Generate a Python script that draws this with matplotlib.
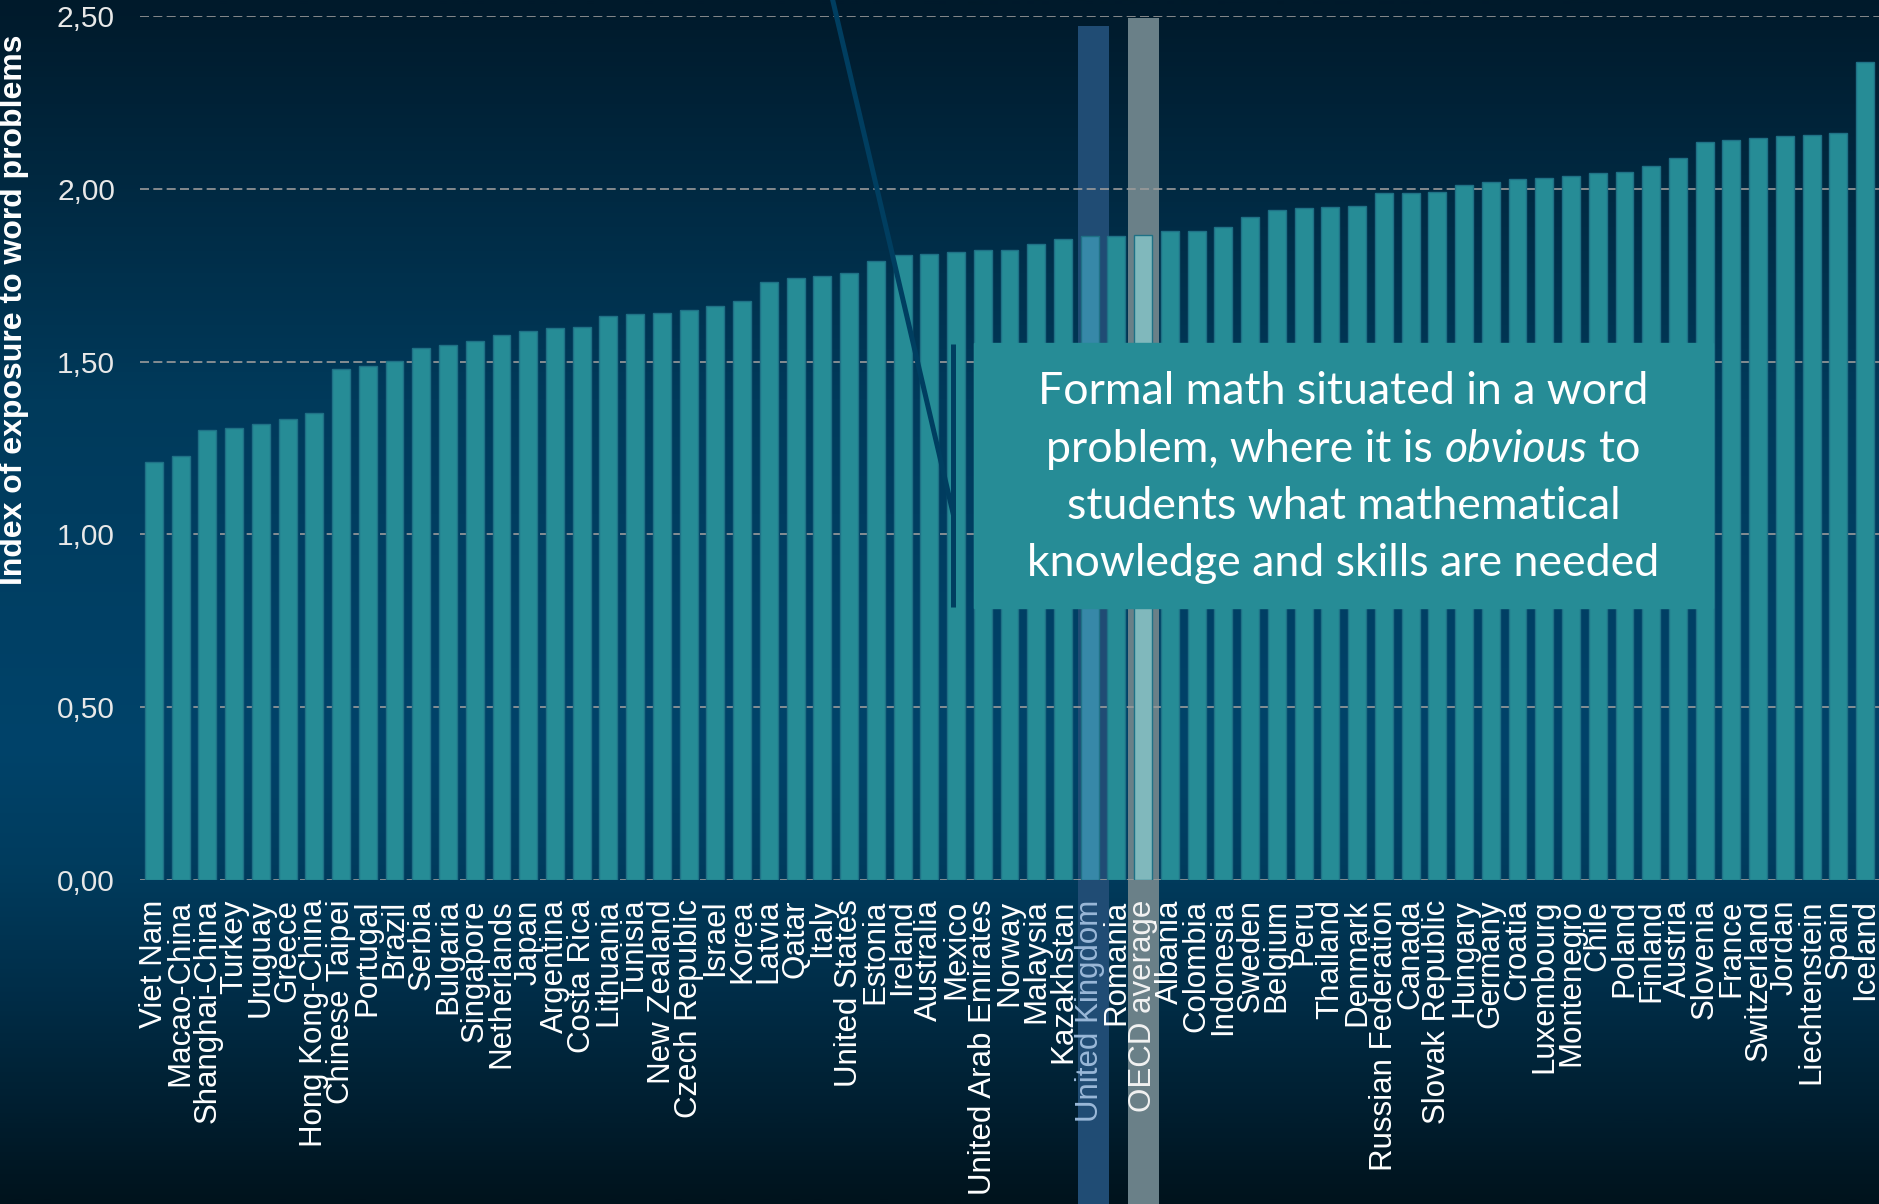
import numpy as np
import matplotlib
matplotlib.use("Agg")
import matplotlib.pyplot as plt
from matplotlib.colors import LinearSegmentedColormap
from matplotlib.patches import Rectangle
from matplotlib.lines import Line2D
from matplotlib.ticker import FuncFormatter

# ---- data -------------------------------------------------------------
countries = [
    "Viet Nam", "Macao-China", "Shanghai-China", "Turkey", "Uruguay", "Greece",
    "Hong Kong-China", "Chinese Taipei", "Portugal", "Brazil", "Serbia",
    "Bulgaria", "Singapore", "Netherlands", "Japan", "Argentina", "Costa Rica",
    "Lithuania", "Tunisia", "New Zealand", "Czech Republic", "Israel", "Korea",
    "Latvia", "Qatar", "Italy", "United States", "Estonia", "Ireland",
    "Australia", "Mexico", "United Arab Emirates", "Norway", "Malaysia",
    "Kazakhstan", "United Kingdom", "Romania", "OECD average", "Albania",
    "Colombia", "Indonesia", "Sweden", "Belgium", "Peru", "Thailand", "Denmark",
    "Russian Federation", "Canada", "Slovak Republic", "Hungary", "Germany",
    "Croatia", "Luxembourg", "Montenegro", "Chile", "Poland", "Finland",
    "Austria", "Slovenia", "France", "Switzerland", "Jordan", "Liechtenstein",
    "Spain", "Iceland",
]
exposure = [
    1.209, 1.228, 1.302, 1.309, 1.318, 1.333, 1.351, 1.479, 1.486, 1.502,
    1.540, 1.547, 1.560, 1.578, 1.589, 1.598, 1.601, 1.633, 1.637, 1.642,
    1.648, 1.661, 1.675, 1.731, 1.743, 1.747, 1.755, 1.792, 1.809, 1.811,
    1.817, 1.822, 1.824, 1.840, 1.855, 1.862, 1.863, 1.867, 1.877, 1.878,
    1.889, 1.917, 1.940, 1.943, 1.948, 1.950, 1.987, 1.988, 1.992, 2.011,
    2.020, 2.027, 2.032, 2.036, 2.047, 2.049, 2.066, 2.089, 2.136, 2.140,
    2.146, 2.154, 2.156, 2.162, 2.367,
]
y_ticks = [0.0, 0.5, 1.0, 1.5, 2.0, 2.5]
y_label = "Index of exposure to word problems"
focus_country = "United Kingdom"
average_label = "OECD average"
callout_lines = [
    [("Formal math situated in a word", "normal")],
    [("problem, where it is", "normal"), ("obvious", "italic"), ("to", "normal")],
    [("students what mathematical", "normal")],
    [("knowledge and skills are needed", "normal")],
]

# ---- styling ------------------------------------------------------------
W, H, DPI = 1879, 1204, 100
BAR = "#268c96"
BAR_EDGE = "#1f7186"
FOCUS_BAR = "#3788a8"
AVG_BAR = "#80b8bc"
FOCUS_BAND = "#204c74"
AVG_BAND = "#6a8088"
GRID = "#9b9b9b"
CONNECTOR = "#003e60"
SANS = ["Liberation Sans", "DejaVu Sans"]

fig = plt.figure(figsize=(W / DPI, H / DPI), dpi=DPI)

# vertical gradient backdrop
bg = fig.add_axes([0, 0, 1, 1], zorder=-10)
bg.set_axis_off()
cmap = LinearSegmentedColormap.from_list(
    "slide",
    [(0.0, "#001a2b"), (0.33, "#003a5b"), (0.62, "#00436a"),
     (0.72, "#003c5e"), (0.82, "#002e49"), (1.0, "#00131d")],
)
bg.imshow(np.linspace(0, 1, 600).reshape(-1, 1), aspect="auto", cmap=cmap,
          extent=[0, 1, 0, 1], origin="upper")
bg.set_xlim(0, 1)
bg.set_ylim(0, 1)

# main chart
ax = fig.add_axes([140 / W, 1 - 880 / H, 1 - 140 / W, (880 - 16) / H])
ax.set_facecolor("none")
x = np.arange(len(countries))
colors = [FOCUS_BAR if c == focus_country else AVG_BAR if c == average_label else BAR
          for c in countries]
ax.bar(x, exposure, width=0.67, color=colors, edgecolor=BAR_EDGE, linewidth=1.0, zorder=2)

ax.set_xlim(-0.52, len(countries) - 0.48)
ax.set_ylim(0, 2.5)

# highlight bands behind the focus country and the average
y_fig_bottom = ax.transData.inverted().transform(fig.transFigure.transform((0, 0)))[1]
for name, color, top, dx, w in [(focus_country, FOCUS_BAND, 2.47, -0.43, 1.16),
                                (average_label, AVG_BAND, 2.494, -0.56, 1.15)]:
    i = countries.index(name)
    ax.add_patch(Rectangle((i + dx, y_fig_bottom), w, top - y_fig_bottom,
                           facecolor=color, edgecolor="none", zorder=0.2, clip_on=False))

ax.set_axisbelow(True)
ax.yaxis.grid(True, color=GRID, linestyle=(0, (5.4, 2.6)), linewidth=1.2)
ax.xaxis.grid(False)
for s in ax.spines.values():
    s.set_visible(False)

ax.set_yticks(y_ticks)
ax.yaxis.set_major_formatter(FuncFormatter(lambda v, _: f"{v:.2f}".replace(".", ",")))
ax.tick_params(axis="y", length=0, pad=18, labelsize=21.5, labelcolor="#e8e8e8")
for t in ax.get_yticklabels():
    t.set_family(SANS)

ax.set_xticks(x)
ax.set_xticklabels(countries, rotation=90, fontsize=22.5, family=SANS, color="white")
ax.tick_params(axis="x", length=0, pad=14)
for t in ax.get_xticklabels():
    if t.get_text() == focus_country:
        t.set_color("#9ab8d8")
    elif t.get_text() == average_label:
        t.set_color("#f2f2f2")

ax.set_ylabel(y_label, fontsize=23, fontweight="bold", color="white", family=SANS)
ax.yaxis.label.set_va("center")
ax.yaxis.set_label_coords((14 - 140) / 1739, (880 - 309.5) / 864)

# callout connector
fig.add_artist(Line2D([828 / W, 953 / W], [1 + 20 / H, 1 - 513 / H],
                      color=CONNECTOR, linewidth=3.6, zorder=4))
fig.add_artist(Line2D([953 / W, 953 / W], [1 - 344 / H, 1 - 607 / H],
                      color=CONNECTOR, linewidth=3.6, solid_capstyle="butt", zorder=4))

# callout box
box_l, box_r, box_t, box_b = 974, 1713, 343, 608
fig.add_artist(Rectangle((box_l / W, 1 - box_b / H), (box_r - box_l) / W, (box_b - box_t) / H,
                         transform=fig.transFigure, facecolor=BAR, edgecolor=BAR,
                         linewidth=1, zorder=5))

CALLOUT_FONT = ["Lato", "DejaVu Sans"]
renderer = fig.canvas.get_renderer()


def text_width(s, size, style):
    t = fig.text(0, 0, s, fontsize=size, family=CALLOUT_FONT, style=style)
    w = t.get_window_extent(renderer).width
    t.remove()
    return w


ref = callout_lines[3][0][0]
fs = 30 * 631 / text_width(ref, 30, "normal")
space = text_width("a a", fs, "normal") - text_width("aa", fs, "normal")
cx = (box_l + box_r) / 2
baselines = [404, 461.5, 519, 576.5]
for parts, base in zip(callout_lines, baselines):
    widths = [text_width(p, fs, st) for p, st in parts]
    total = sum(widths) + space * (len(parts) - 1)
    xpos = cx - total / 2
    for (p, st), w in zip(parts, widths):
        fig.text(xpos / W, 1 - base / H, p, fontsize=fs, family=CALLOUT_FONT, style=st,
                 color="white", ha="left", va="baseline", zorder=6)
        xpos += w + space

fig.savefig("out.png", dpi=DPI)
